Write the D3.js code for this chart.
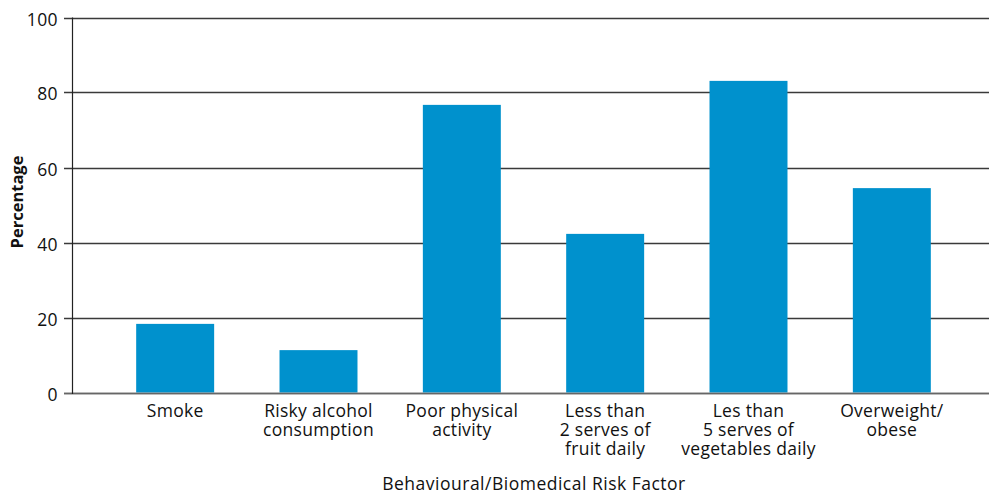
<!DOCTYPE html>
<html>
<head>
<meta charset="utf-8">
<script src="https://cdn.jsdelivr.net/npm/d3@7"></script>
<style>
  html, body { margin: 0; padding: 0; background: #fff; }
  svg { display: block; }
  text { font-family: "Open Sans", "Noto Sans", sans-serif; fill: #111; }
</style>
</head>
<body>
<svg id="chart" width="989" height="495"></svg>
<script>
// Risk factor categories (label lines) and prevalence percentages
const categories = [
  ["Smoke"],
  ["Risky alcohol", "consumption"],
  ["Poor physical", "activity"],
  ["Less than", "2 serves of", "fruit daily"],
  ["Les than", "5 serves of", "vegetables daily"],
  ["Overweight/", "obese"]
];
const values = [18.3, 11.3, 76.7, 42.3, 83.1, 54.5];
const yTicks = [0, 20, 40, 60, 80, 100];

const svg = d3.select("#chart");
const axisLeft = 72, plotRight = 989, plotTop = 17.5, plotBottom = 392.5;

const keys = categories.map(c => c.join(" "));
const x = d3.scaleBand()
  .domain(keys)
  .range([103.5, 963.5])
  .paddingInner(0.456)
  .paddingOuter(0.228);

const y = d3.scaleLinear().domain([0, 100]).range([plotBottom, plotTop]);

// Horizontal gridlines with short ticks left of the axis
const grid = svg.append("g");
yTicks.forEach(t => {
  const yy = Math.round(y(t)) + 0.5;
  grid.append("line")
    .attr("x1", 64).attr("x2", plotRight)
    .attr("y1", yy).attr("y2", yy)
    .attr("stroke", t === 0 ? "#666" : "#3a3a3a")
    .attr("stroke-width", 1.3);
  grid.append("text")
    .attr("x", 58).attr("y", yy)
    .attr("text-anchor", "end")
    .attr("dominant-baseline", "central")
    .attr("font-size", 17.5)
    .attr("letter-spacing", 0.4)
    .text(t);
});

// Bars
svg.append("g").selectAll("rect")
  .data(values)
  .join("rect")
  .attr("x", (d, i) => x(keys[i]))
  .attr("width", x.bandwidth())
  .attr("y", d => y(d))
  .attr("height", d => y(0) - y(d))
  .attr("fill", "#0091cd");

// Redraw baseline on top of bars
svg.append("line")
  .attr("x1", 64).attr("x2", plotRight)
  .attr("y1", Math.round(y(0)) + 0.5).attr("y2", Math.round(y(0)) + 0.5)
  .attr("stroke", "#666").attr("stroke-width", 1.3);

// Vertical axis line
svg.append("line")
  .attr("x1", axisLeft + 0.5).attr("x2", axisLeft + 0.5)
  .attr("y1", plotTop).attr("y2", Math.round(y(0)) + 1)
  .attr("stroke", "#222").attr("stroke-width", 1.2);

// Category labels, one text element per line
const catG = svg.append("g");
categories.forEach((lines, i) => {
  const cx = x(keys[i]) + x.bandwidth() / 2;
  lines.forEach((ln, j) => {
    catG.append("text")
      .attr("x", cx)
      .attr("y", 417 + j * 19)
      .attr("text-anchor", "middle")
      .attr("font-size", 17.5)
      .attr("letter-spacing", 0.3)
      .text(ln);
  });
});

// Axis titles
svg.append("text")
  .attr("x", 534).attr("y", 490)
  .attr("text-anchor", "middle")
  .attr("font-size", 17.5)
  .attr("letter-spacing", 0.5)
  .text("Behavioural/Biomedical Risk Factor");

svg.append("text")
  .attr("transform", "translate(23," + ((plotTop + plotBottom) / 2 - 3) + ") rotate(-90)")
  .attr("text-anchor", "middle")
  .attr("font-size", 16.5)
  .attr("font-weight", "bold")
  .text("Percentage");
</script>
</body>
</html>
